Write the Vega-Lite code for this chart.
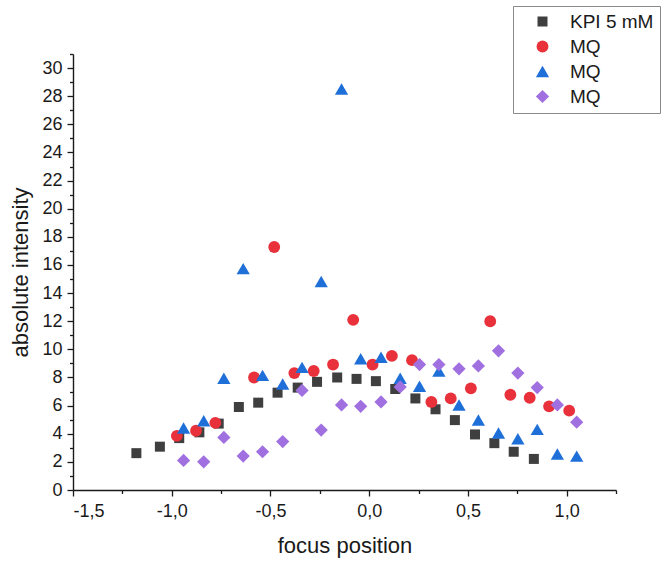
{
  "$schema": "https://vega.github.io/schema/vega-lite/v6.json",
  "width": 543,
  "height": 436,
  "autosize": "none",
  "padding": {"left": 73, "top": 54, "right": 46, "bottom": 75},
  "background": "white",
  "config": {
    "view": {"stroke": null},
    "font": "Liberation Sans",
    "axis": {"labelFont": "Liberation Sans", "titleFont": "Liberation Sans", "labelColor": "#1a1a1a", "titleColor": "#1a1a1a", "titleFontWeight": "normal", "domainColor": "#1a1a1a", "tickColor": "#1a1a1a", "domainWidth": 1.4, "tickWidth": 1.3, "grid": false}
  },
  "data": {"values": [
    {"series": "s1", "pos": -1.179, "intensity": 2.62},
    {"series": "s1", "pos": -1.06, "intensity": 3.08},
    {"series": "s1", "pos": -0.962, "intensity": 3.69},
    {"series": "s1", "pos": -0.86, "intensity": 4.10},
    {"series": "s1", "pos": -0.762, "intensity": 4.72},
    {"series": "s1", "pos": -0.66, "intensity": 5.90},
    {"series": "s1", "pos": -0.562, "intensity": 6.21},
    {"series": "s1", "pos": -0.464, "intensity": 6.92},
    {"series": "s1", "pos": -0.362, "intensity": 7.28},
    {"series": "s1", "pos": -0.264, "intensity": 7.69},
    {"series": "s1", "pos": -0.162, "intensity": 8.00},
    {"series": "s1", "pos": -0.064, "intensity": 7.90},
    {"series": "s1", "pos": 0.034, "intensity": 7.74},
    {"series": "s1", "pos": 0.132, "intensity": 7.18},
    {"series": "s1", "pos": 0.234, "intensity": 6.51},
    {"series": "s1", "pos": 0.336, "intensity": 5.74},
    {"series": "s1", "pos": 0.434, "intensity": 4.97},
    {"series": "s1", "pos": 0.536, "intensity": 3.95},
    {"series": "s1", "pos": 0.634, "intensity": 3.33},
    {"series": "s1", "pos": 0.732, "intensity": 2.72},
    {"series": "s1", "pos": 0.834, "intensity": 2.21},
    {"series": "s2", "pos": -0.974, "intensity": 3.85},
    {"series": "s2", "pos": -0.877, "intensity": 4.21},
    {"series": "s2", "pos": -0.779, "intensity": 4.77},
    {"series": "s2", "pos": -0.583, "intensity": 8.00},
    {"series": "s2", "pos": -0.481, "intensity": 17.28},
    {"series": "s2", "pos": -0.379, "intensity": 8.31},
    {"series": "s2", "pos": -0.281, "intensity": 8.46},
    {"series": "s2", "pos": -0.183, "intensity": 8.92},
    {"series": "s2", "pos": -0.081, "intensity": 12.10},
    {"series": "s2", "pos": 0.017, "intensity": 8.92},
    {"series": "s2", "pos": 0.115, "intensity": 9.54},
    {"series": "s2", "pos": 0.217, "intensity": 9.23},
    {"series": "s2", "pos": 0.315, "intensity": 6.26},
    {"series": "s2", "pos": 0.413, "intensity": 6.51},
    {"series": "s2", "pos": 0.515, "intensity": 7.23},
    {"series": "s2", "pos": 0.613, "intensity": 12.00},
    {"series": "s2", "pos": 0.715, "intensity": 6.77},
    {"series": "s2", "pos": 0.813, "intensity": 6.56},
    {"series": "s2", "pos": 0.911, "intensity": 5.95},
    {"series": "s2", "pos": 1.013, "intensity": 5.64},
    {"series": "s3", "pos": -0.94, "intensity": 4.41},
    {"series": "s3", "pos": -0.838, "intensity": 4.92},
    {"series": "s3", "pos": -0.736, "intensity": 7.95},
    {"series": "s3", "pos": -0.638, "intensity": 15.74},
    {"series": "s3", "pos": -0.54, "intensity": 8.15},
    {"series": "s3", "pos": -0.438, "intensity": 7.54},
    {"series": "s3", "pos": -0.34, "intensity": 8.72},
    {"series": "s3", "pos": -0.243, "intensity": 14.82},
    {"series": "s3", "pos": -0.14, "intensity": 28.51},
    {"series": "s3", "pos": -0.043, "intensity": 9.33},
    {"series": "s3", "pos": 0.06, "intensity": 9.44},
    {"series": "s3", "pos": 0.157, "intensity": 7.95},
    {"series": "s3", "pos": 0.255, "intensity": 7.38},
    {"series": "s3", "pos": 0.353, "intensity": 8.46},
    {"series": "s3", "pos": 0.455, "intensity": 6.05},
    {"series": "s3", "pos": 0.553, "intensity": 4.97},
    {"series": "s3", "pos": 0.655, "intensity": 4.05},
    {"series": "s3", "pos": 0.753, "intensity": 3.64},
    {"series": "s3", "pos": 0.851, "intensity": 4.31},
    {"series": "s3", "pos": 0.953, "intensity": 2.56},
    {"series": "s3", "pos": 1.051, "intensity": 2.41},
    {"series": "s4", "pos": -0.94, "intensity": 2.10},
    {"series": "s4", "pos": -0.838, "intensity": 2.00},
    {"series": "s4", "pos": -0.736, "intensity": 3.74},
    {"series": "s4", "pos": -0.638, "intensity": 2.41},
    {"series": "s4", "pos": -0.54, "intensity": 2.72},
    {"series": "s4", "pos": -0.438, "intensity": 3.44},
    {"series": "s4", "pos": -0.34, "intensity": 7.08},
    {"series": "s4", "pos": -0.243, "intensity": 4.26},
    {"series": "s4", "pos": -0.14, "intensity": 6.05},
    {"series": "s4", "pos": -0.043, "intensity": 5.95},
    {"series": "s4", "pos": 0.06, "intensity": 6.26},
    {"series": "s4", "pos": 0.157, "intensity": 7.33},
    {"series": "s4", "pos": 0.255, "intensity": 8.92},
    {"series": "s4", "pos": 0.353, "intensity": 8.92},
    {"series": "s4", "pos": 0.455, "intensity": 8.62},
    {"series": "s4", "pos": 0.553, "intensity": 8.82},
    {"series": "s4", "pos": 0.655, "intensity": 9.90},
    {"series": "s4", "pos": 0.753, "intensity": 8.31},
    {"series": "s4", "pos": 0.851, "intensity": 7.28},
    {"series": "s4", "pos": 0.953, "intensity": 6.05},
    {"series": "s4", "pos": 1.051, "intensity": 4.82}
  ]},
  "resolve": {"axis": {"x": "independent", "y": "independent"}},
  "layer": [
    {
      "mark": {"type": "point", "filled": true, "opacity": 1},
      "encoding": {
        "x": {"field": "pos", "type": "quantitative",
          "scale": {"domain": [-1.5, 1.25], "nice": false, "zero": false},
          "axis": {"orient": "bottom", "values": [-1.5, -1, -0.5, 0, 0.5, 1], "tickSize": 6, "labelFontSize": 18, "labelPadding": 6, "titleFontSize": 22, "titlePadding": 15, "title": "focus position",
            "labelExpr": "replace(replace(format(datum.value, '.1f'), '.', ','), '\u2212', '-')"}},
        "y": {"field": "intensity", "type": "quantitative",
          "scale": {"domain": [0, 31], "nice": false, "zero": true},
          "axis": {"orient": "left", "values": [0, 2, 4, 6, 8, 10, 12, 14, 16, 18, 20, 22, 24, 26, 28, 30], "tickSize": 6, "labelFontSize": 18, "labelPadding": 5, "titleFontSize": 22, "titlePadding": 9, "title": "absolute intensity"}},
        "color": {"field": "series", "type": "nominal",
          "scale": {"domain": ["s1", "s2", "s3", "s4"], "range": ["#3f3f3f", "#e8313a", "#1f6fd8", "#a070e0"]},
          "legend": {"title": null, "orient": "none", "legendX": 440, "legendY": -48, "strokeColor": "#8a8a8a", "fillColor": "white", "padding": 6, "symbolOffset": 14, "labelOffset": 18, "labelFontSize": 19, "labelFont": "Liberation Sans", "labelColor": "#1a1a1a", "rowPadding": 5,
            "labelExpr": "datum.value == 's1' ? 'KPI 5 mM' : 'MQ'"}},
        "shape": {"field": "series", "type": "nominal",
          "scale": {"domain": ["s1", "s2", "s3", "s4"], "range": ["square", "circle", "triangle-up", "diamond"]},
          "legend": {"title": null, "orient": "none", "legendX": 440, "legendY": -48, "labelExpr": "datum.value == 's1' ? 'KPI 5 mM' : 'MQ'"}},
        "size": {"field": "series", "type": "nominal",
          "scale": {"type": "ordinal", "domain": ["s1", "s2", "s3", "s4"], "range": [100, 140, 175, 175]},
          "legend": null}
      }
    },
    {
      "mark": {"type": "point", "opacity": 0},
      "encoding": {
        "x": {"field": "pos", "type": "quantitative",
          "axis": {"orient": "bottom", "values": [-1.25, -0.75, -0.25, 0.25, 0.75, 1.25], "tickSize": 3.5, "labels": false, "domain": false, "title": null}},
        "y": {"field": "intensity", "type": "quantitative",
          "axis": {"orient": "left", "values": [1, 3, 5, 7, 9, 11, 13, 15, 17, 19, 21, 23, 25, 27, 29, 31], "tickSize": 3.5, "labels": false, "domain": false, "title": null}}
      }
    }
  ]
}
